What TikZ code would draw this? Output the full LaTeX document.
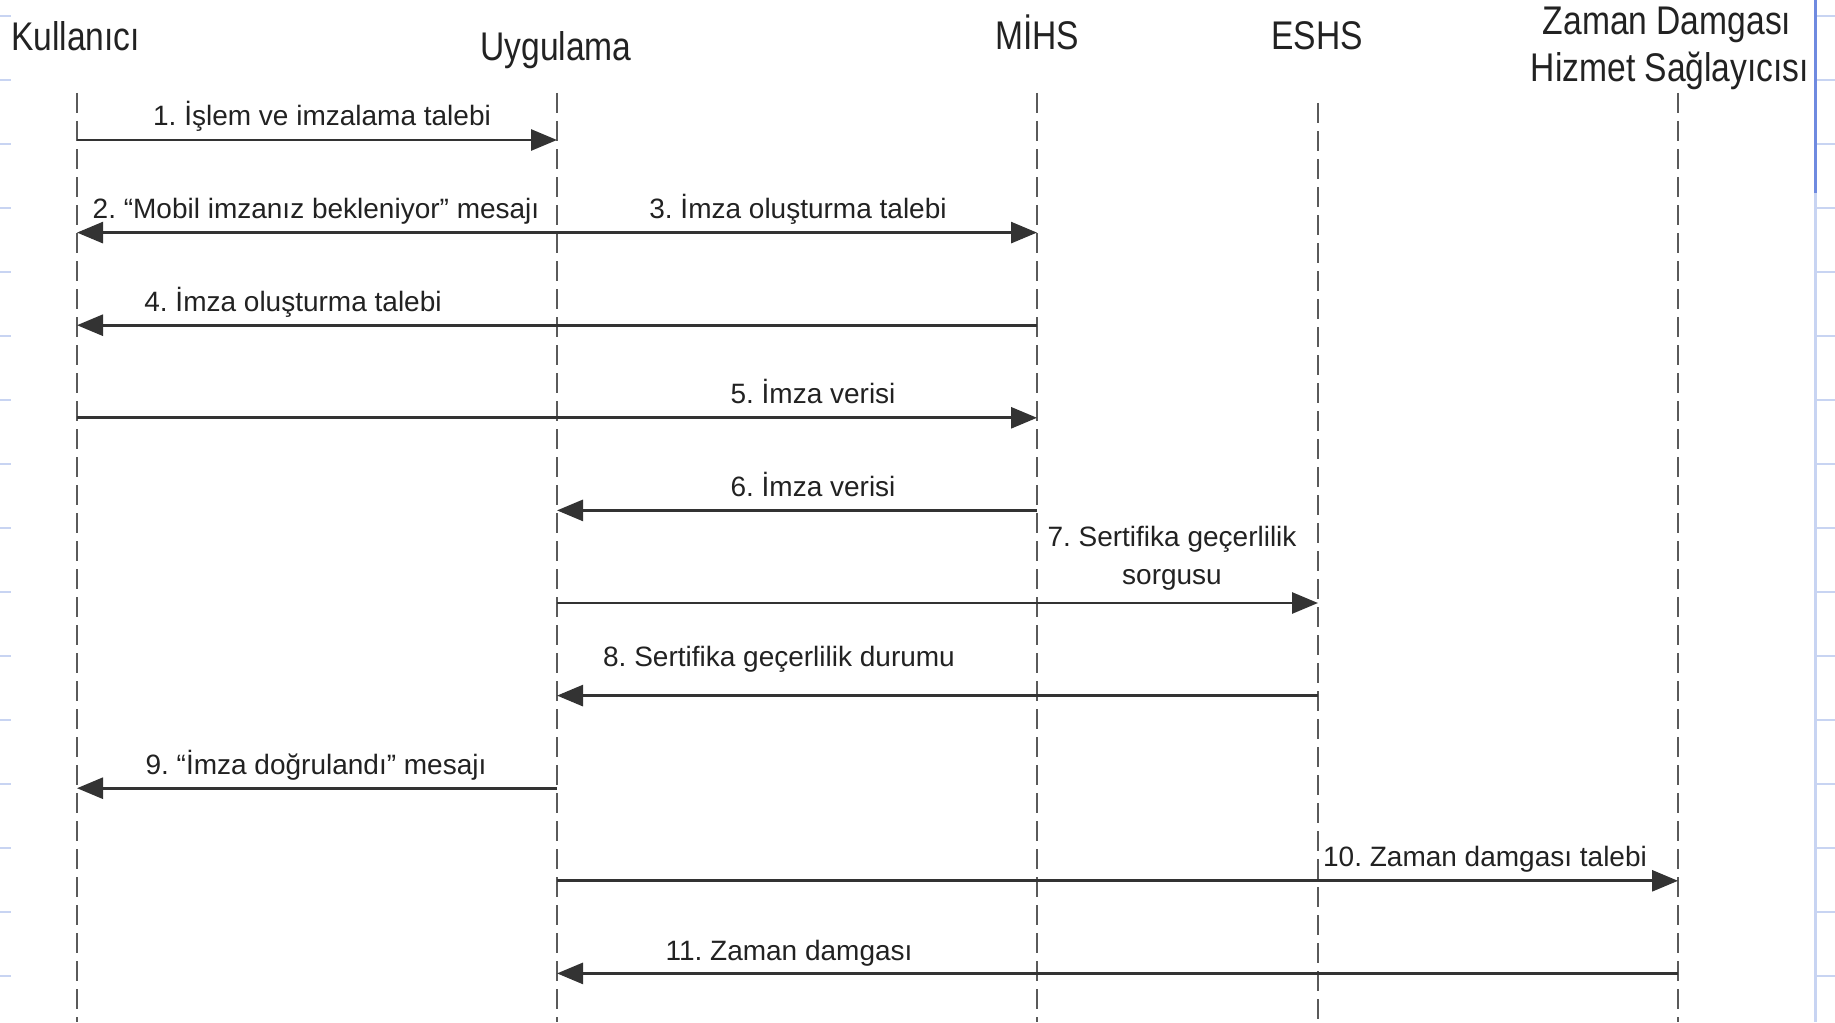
\documentclass[tikz,border=0pt]{standalone}
\usepackage{fontspec}
\setmainfont{Liberation Sans}
\newfontfamily\hdrfont[FakeStretch=0.84]{Liberation Sans}
\usetikzlibrary{arrows.meta}
\definecolor{txt}{HTML}{222222}
\definecolor{lifegray}{HTML}{5A5A5A}
\definecolor{msggray}{HTML}{333333}
\definecolor{gridblue}{HTML}{C8D4F2}
\definecolor{darkblue}{HTML}{6F8AE0}
\begin{document}
\frenchspacing
\begin{tikzpicture}[x=1pt,y=-1pt,
  hdr/.style={font=\hdrfont\fontsize{40}{46}\selectfont, text=txt, inner sep=0pt},
  lbl/.style={font=\fontsize{28}{34}\selectfont, text=txt, inner sep=0pt, anchor=base},
  life/.style={draw=lifegray, line width=2.5pt, dash pattern=on 20pt off 8pt},
  msg/.style={draw=msggray, line width=2.8pt, -{Triangle[length=26pt,width=21pt]}},
  tick/.style={draw=gridblue, line width=2pt}
]
\useasboundingbox[fill=white] (0,0) rectangle (1835,1022);

% slide grid artefacts
\foreach \k in {0,...,15}{
  \draw[tick] (0,16+64*\k) -- (11,16+64*\k);
  \draw[tick] (1815,16+64*\k) -- (1835,16+64*\k);
}
\draw[draw=gridblue, line width=3pt] (1815,193) -- (1815,1022);
\draw[draw=darkblue, line width=3pt] (1815,0) -- (1815,193);

% headers
\node[hdr, anchor=base west] (hK) at (11,51) {Kullanıcı};
\node[hdr, anchor=base] (hU) at (556,61) {Uygulama};
\node[hdr, anchor=base] (hM) at (1037,50) {MİHS};
\node[hdr, anchor=base] (hE) at (1317,50) {ESHS};
\node[hdr, anchor=base] (hZa) at (1667,35) {Zaman Damgası};
\node[hdr, anchor=base] (hZb) at (1670,82) {Hizmet Sağlayıcısı};

% lifelines
\coordinate (Kt) at (77,93);   \coordinate (Kb) at (77,1022);
\coordinate (Ut) at (557,93);  \coordinate (Ub) at (557,1022);
\coordinate (Mt) at (1037,93); \coordinate (Mb) at (1037,1022);
\coordinate (Et) at (1318,103);\coordinate (Eb) at (1318,1022);
\coordinate (Zt) at (1678,93); \coordinate (Zb) at (1678,1022);
\foreach \n in {K,U,M,E,Z}{ \draw[life] (\n t) -- (\n b); }

% message end points
\coordinate (K1) at (77,140);   \coordinate (U1) at (557,140);
\coordinate (U2) at (557,232.6);\coordinate (K2) at (77,232.6);
\coordinate (M3) at (1037,232.6);
\coordinate (M4) at (1037,325.2);\coordinate (K4) at (77,325.2);
\coordinate (K5) at (77,417.8); \coordinate (M5) at (1037,417.8);
\coordinate (M6) at (1037,510.4);\coordinate (U6) at (557,510.4);
\coordinate (U7) at (557,603);  \coordinate (E7) at (1318,603);
\coordinate (E8) at (1318,695.6);\coordinate (U8) at (557,695.6);
\coordinate (U9) at (557,788.2);\coordinate (K9) at (77,788.2);
\coordinate (U10) at (557,880.8);\coordinate (Z10) at (1678,880.8);
\coordinate (Z11) at (1678,973.4);\coordinate (U11) at (557,973.4);

\draw[msg] (K1) -- (U1);
\draw[msg] (U2) -- (K2);
\draw[msg] (U2) -- (M3);
\draw[msg] (M4) -- (K4);
\draw[msg] (K5) -- (M5);
\draw[msg] (M6) -- (U6);
\draw[msg] (U7) -- (E7);
\draw[msg] (E8) -- (U8);
\draw[msg] (U9) -- (K9);
\draw[msg] (U10) -- (Z10);
\draw[msg] (Z11) -- (U11);

% labels
\node[lbl] (l1) at (322,125) {1. İşlem ve imzalama talebi};
\node[lbl] (l2) at (316,218) {2. “Mobil imzanız bekleniyor” mesajı};
\node[lbl] (l3) at (798,218) {3. İmza oluşturma talebi};
\node[lbl] (l4) at (293,311) {4. İmza oluşturma talebi};
\node[lbl] (l5) at (813,403) {5. İmza verisi};
\node[lbl] (l6) at (813,496) {6. İmza verisi};
\node[lbl] (l7a) at (1172,546) {7. Sertifika geçerlilik};
\node[lbl] (l7b) at (1172,584) {sorgusu};
\node[lbl] (l8) at (779,666) {8. Sertifika geçerlilik durumu};
\node[lbl] (l9) at (316,774) {9. “İmza doğrulandı” mesajı};
\node[lbl] (l10) at (1485,866) {10. Zaman damgası talebi};
\node[lbl] (l11) at (789,960) {11. Zaman damgası};
\end{tikzpicture}
\end{document}
